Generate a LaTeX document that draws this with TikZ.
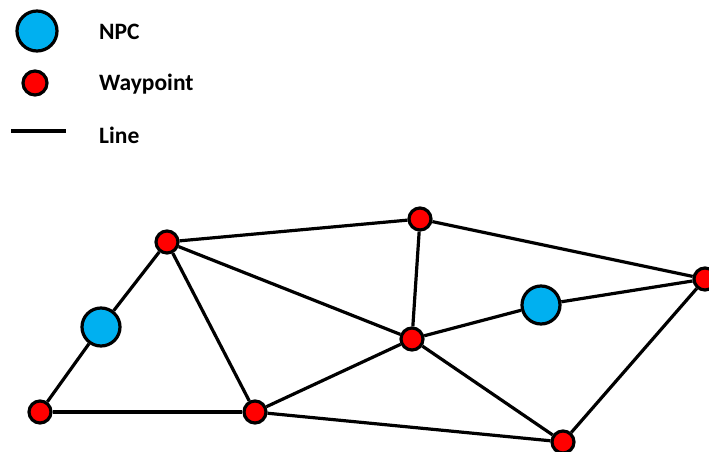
\documentclass[tikz,border=0pt]{standalone}
\usepackage{fontspec}
\setmainfont{Carlito}
\definecolor{npcblue}{RGB}{0,176,240}
\definecolor{wpred}{RGB}{255,0,0}
\begin{document}
\begin{tikzpicture}[x=1pt,y=-1pt,
  npc/.style={circle,draw=black,line width=3.2pt,fill=npcblue,minimum size=38pt,inner sep=0pt},
  waypoint/.style={circle,draw=black,line width=3.2pt,fill=wpred,minimum size=22pt,inner sep=0pt},
  edge/.style={line width=3.2pt,draw=black},
  lbl/.style={anchor=west,font=\fontsize{23.5}{26}\selectfont\bfseries,inner sep=0pt}]
\useasboundingbox (0,0) rectangle (709,452);
% legend
\node[npc,minimum size=40pt] (legnpc) at (37,31) {};
\node[lbl] (tnpc) at (99,32) {NPC};
\node[waypoint,minimum size=24pt] (legwp) at (35,83) {};
\node[lbl] (twp) at (99,84) {Waypoint};
\coordinate (l1) at (11,131);
\coordinate (l2) at (66,131);
\draw[edge] (l1) -- (l2);
\node[lbl] (tline) at (99,135) {Line};
% graph
\node[waypoint] (a) at (167,242) {};
\node[waypoint] (b) at (420,219) {};
\node[waypoint] (c) at (705,279) {};
\node[npc] (d) at (101,327) {};
\node[waypoint] (e) at (412,339) {};
\node[npc] (f) at (541,305) {};
\node[waypoint] (g) at (40,412) {};
\node[waypoint] (h) at (255,412) {};
\node[waypoint] (i) at (563,442) {};
\foreach \u/\v in {a/b,a/d,d/g,a/h,a/e,b/e,b/c,e/f,f/c,e/h,e/i,h/i,g/h,c/i}
  \draw[edge] (\u) -- (\v);
\end{tikzpicture}
\end{document}
